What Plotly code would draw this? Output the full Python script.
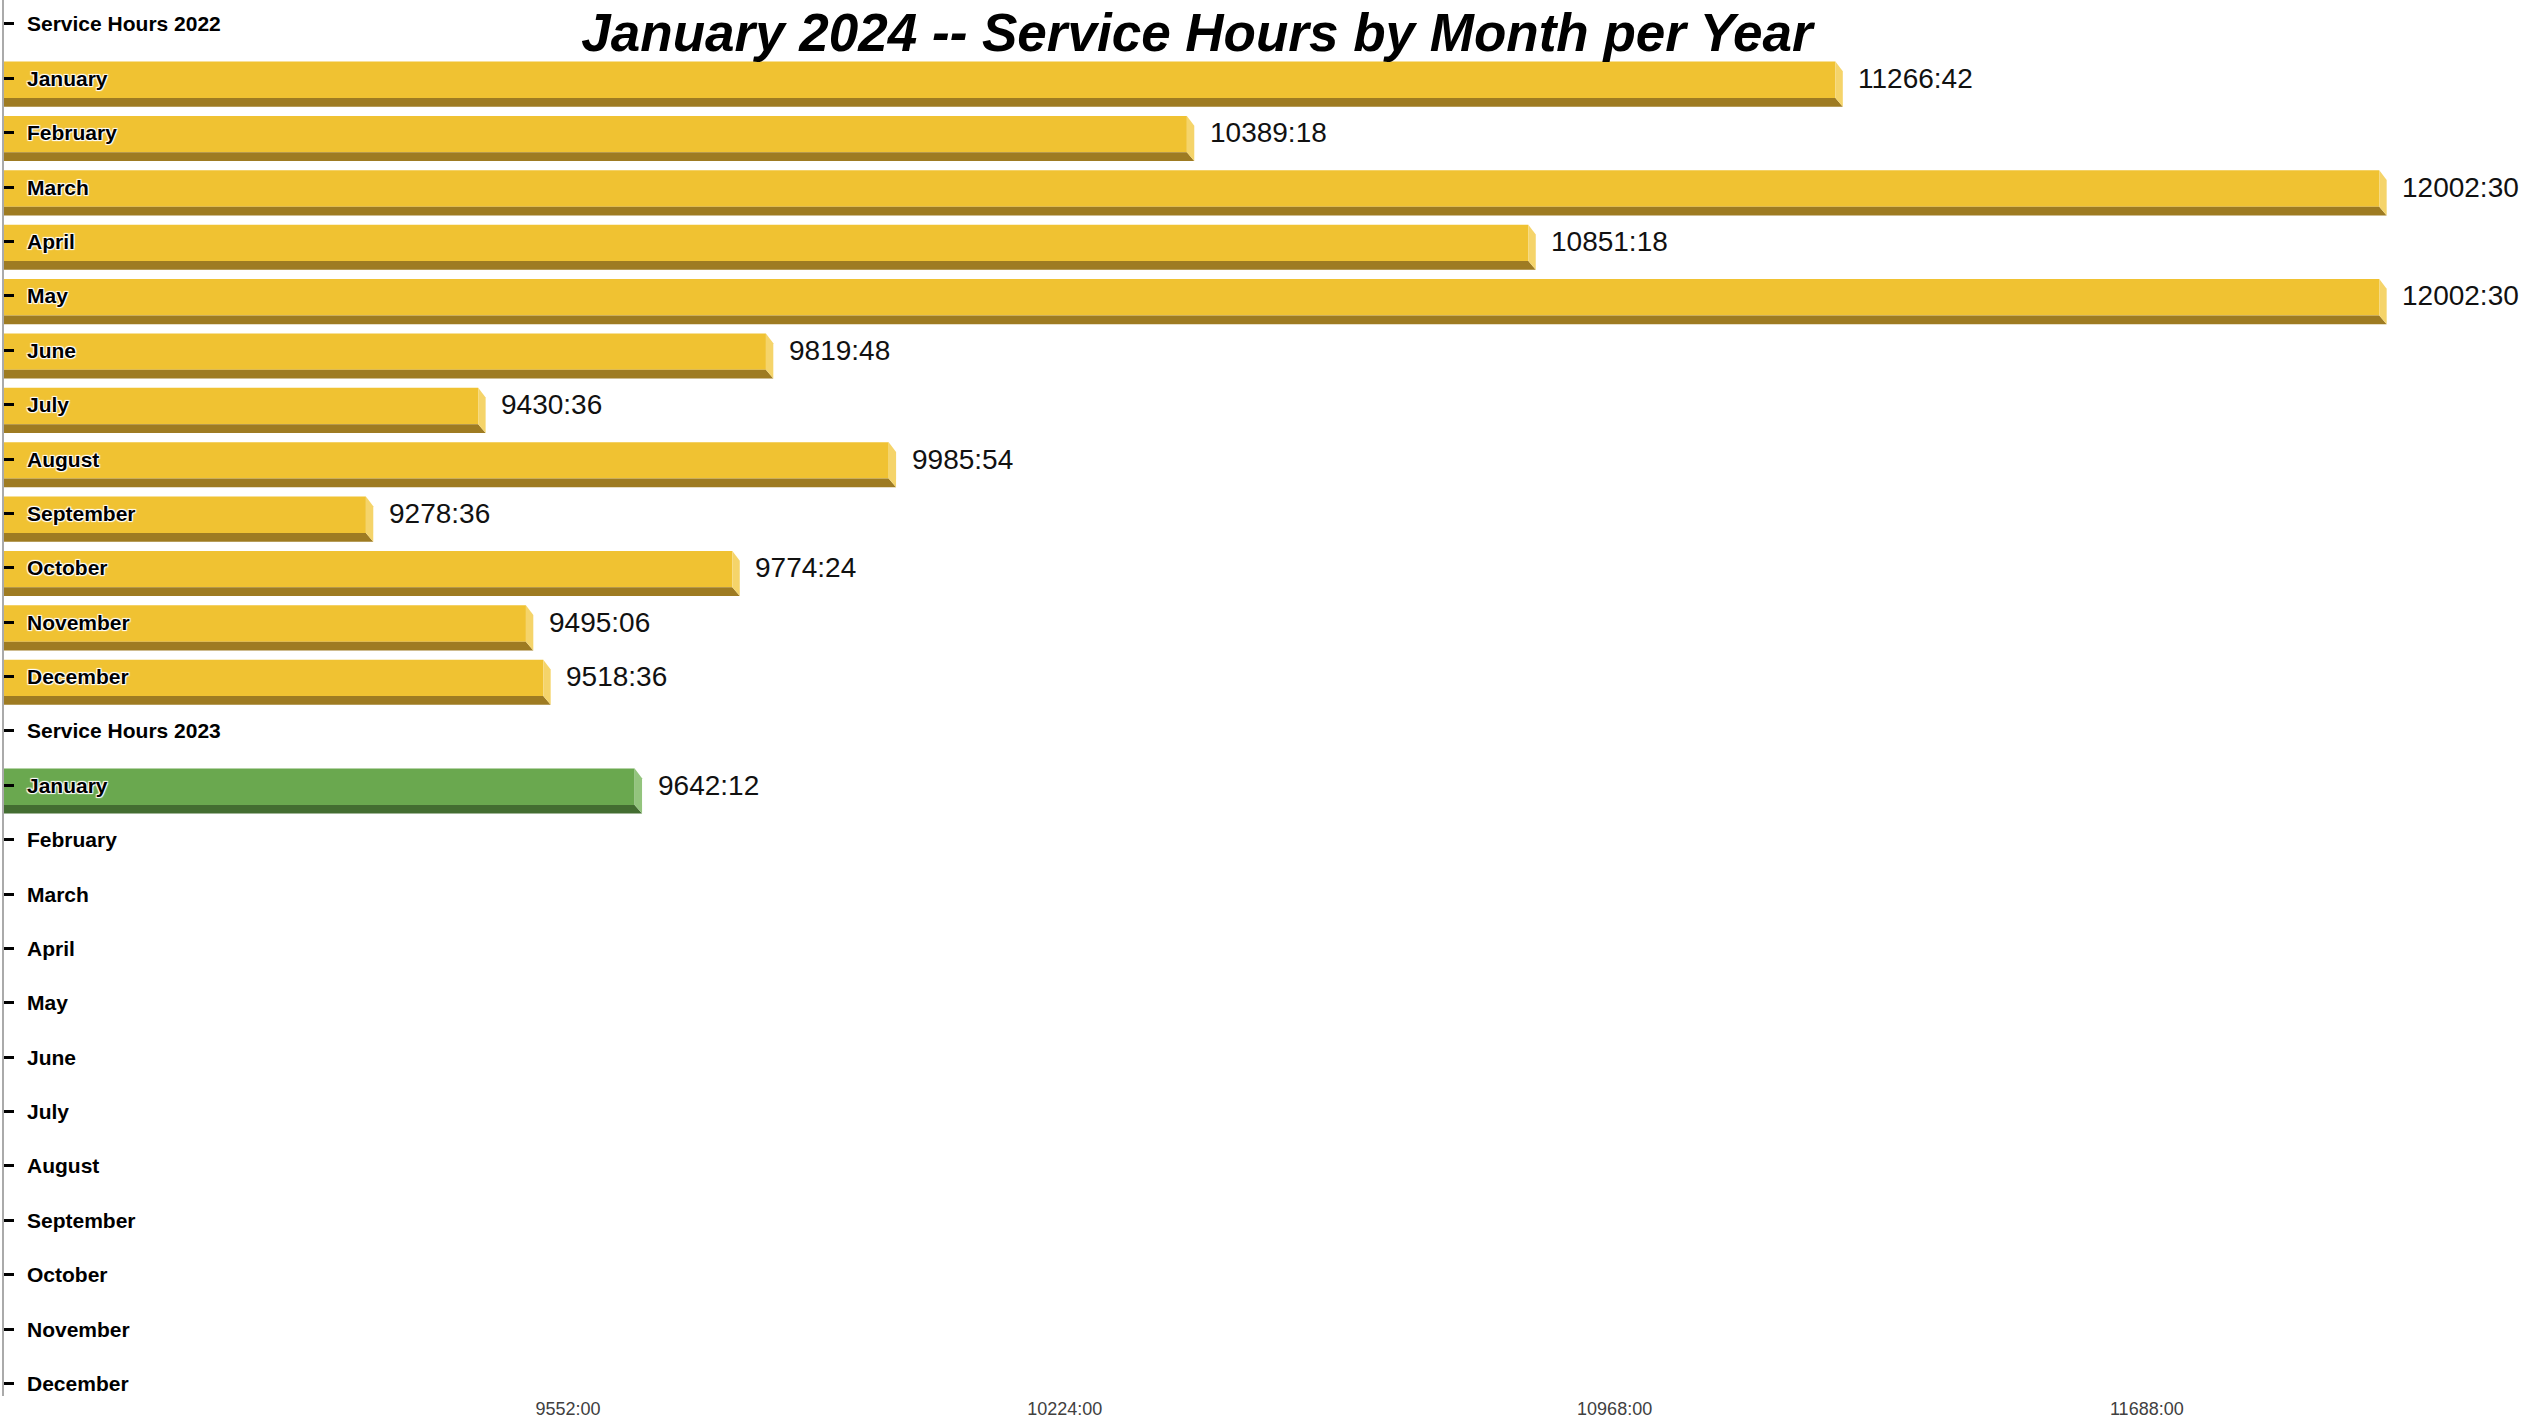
import plotly.graph_objects as go

# row labels, top to bottom
MONTHS = ["January", "February", "March", "April", "May", "June", "July",
          "August", "September", "October", "November", "December"]
ROW_LABELS = ["Service Hours 2022"] + MONTHS + ["Service Hours 2023"] + MONTHS

# service hours as hhhh:mm
HOURS_2022 = ["11266:42", "10389:18", "12002:30", "10851:18", "12002:30", "9819:48",
              "9430:36", "9985:54", "9278:36", "9774:24", "9495:06", "9518:36"]
HOURS_2023 = ["9642:12", None, None, None, None, None, None, None, None, None, None, None]

X_TICKVALS = [9552, 10224, 10968, 11688]
X_TICKTEXT = ["9552:00", "10224:00", "10968:00", "11688:00"]

FONT = "Liberation Sans Narrow, Arial Narrow, Liberation Sans, Arial, sans-serif"
HALO = "1px 1px 1px white, -1px -1px 1px white, 1px -1px 1px white, -1px 1px 1px white"

STYLES = {
    2022: dict(front="#F0C232", dark="#9E7B22", side="#F5D46A"),
    2023: dict(front="#6AA84F", dark="#436D31", side="#93C47D"),
}


def to_hours(s):
    h, m = s.split(":")
    return int(h) + int(m) / 60


X_MIN, X_MAX = 8789, 12017
DEPTH = 10         # hours, width of the bevelled right edge
F_TOP, D_TOP, BOT = -0.31, 0.36, 0.52

fig = go.Figure()
annotations = []

# row labels drawn inside the plot, just right of the axis
for i, lab in enumerate(ROW_LABELS):
    annotations.append(dict(
        x=0, xref="paper", y=i, yref="y", text=f"<b>{lab}</b>", showarrow=False,
        xanchor="left", yanchor="middle", xshift=21,
        font=dict(family=FONT, size=21, color="black", shadow=HALO),
    ))

for year, hours, start in [(2022, HOURS_2022, 1), (2023, HOURS_2023, 14)]:
    st = STYLES[year]
    ys, xs = [], []
    for k, s in enumerate(hours):
        if s is None:
            continue
        i = start + k
        v = to_hours(s)
        ys.append(i)
        xs.append(v)
        # bottom (dark) strip
        fig.add_trace(go.Scatter(
            x=[0, v, v + DEPTH, 0, 0],
            y=[i + D_TOP, i + D_TOP, i + BOT, i + BOT, i + D_TOP],
            mode="lines", fill="toself", fillcolor=st["dark"],
            line=dict(width=0), hoverinfo="skip", showlegend=False,
        ))
        # right bevel
        fig.add_trace(go.Scatter(
            x=[v, v + DEPTH, v + DEPTH, v, v],
            y=[i + F_TOP, i + F_TOP + 0.18, i + BOT, i + D_TOP, i + F_TOP],
            mode="lines", fill="toself", fillcolor=st["side"],
            line=dict(width=0), hoverinfo="skip", showlegend=False,
        ))
        annotations.append(dict(
            x=v, y=i, xref="x", yref="y", text=s, showarrow=False,
            xanchor="left", yanchor="middle", xshift=21,
            font=dict(family=FONT, size=28, color="#111111"),
        ))
    # front face
    fig.add_trace(go.Bar(
        x=xs, y=ys, orientation="h", width=D_TOP - F_TOP, offset=F_TOP,
        marker=dict(color=st["front"], line=dict(width=0)),
        showlegend=False, hoverinfo="skip",
    ))

fig.update_layout(
    width=2529, height=1418,
    paper_bgcolor="white", plot_bgcolor="white",
    margin=dict(l=4, r=139, t=0, b=22),
    barmode="overlay",
    title=dict(
        text="<b><i>January 2024 -- Service Hours by Month per Year</i></b>",
        x=0.5, xref="paper", xanchor="center",
        y=0.99, yref="container", yanchor="top",
        font=dict(family=FONT, size=53, color="black"),
    ),
    xaxis=dict(
        range=[X_MIN, X_MAX], tickvals=X_TICKVALS, ticktext=X_TICKTEXT,
        showgrid=False, zeroline=False, showline=False, ticks="",
        tickfont=dict(family=FONT, size=18, color="#404040"),
    ),
    yaxis=dict(
        range=[25.23, -0.441],
        tickvals=list(range(len(ROW_LABELS))), showticklabels=False,
        showgrid=False, zeroline=False,
        showline=True, linecolor="#AAAAAA", linewidth=2,
        ticks="inside", ticklen=10, tickwidth=3, tickcolor="black",
    ),
    annotations=annotations,
)

fig.write_html("out.html", config={"displayModeBar": False},
               post_script="document.body.style.margin='0';document.body.style.overflow='hidden';")
